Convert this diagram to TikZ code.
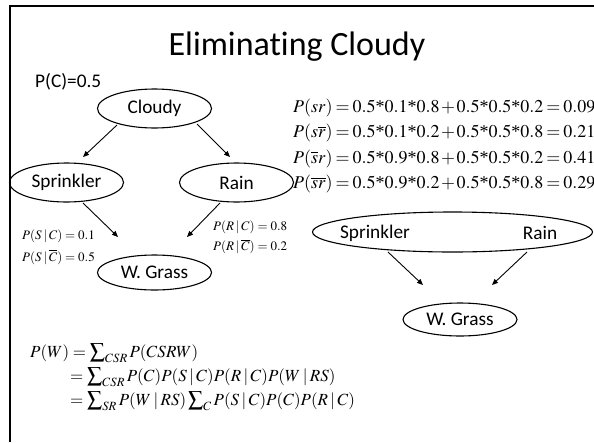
\documentclass[tikz,border=0pt]{standalone}
\usepackage{mathptmx}
\usepackage{graphicx}
\usepackage[no-math]{fontspec}
\setmainfont{Carlito}[Ligatures=NoCommon]
\newfontfamily\timesf{Liberation Serif}
\newcommand{\st}{\mbox{\timesf *}}
\newcommand{\tightsp}{\thickmuskip=3mu plus 1mu\medmuskip=1.5mu}
\newcommand{\bsum}{\mathop{\vcenter{\hbox{\scalebox{1.25}{$\textstyle\sum$}}}}\nolimits}
\usetikzlibrary{arrows.meta,shapes.geometric}
\begin{document}
\begin{tikzpicture}[x=1pt,y=-1pt,
  ell/.style={draw,line width=1.1pt,ellipse,inner sep=0pt},
  lbl/.style={font=\fontsize{19.3}{23}\selectfont},
  arr/.style={line width=0.9pt,-{Triangle[length=6pt,width=5pt]}},
  eqR/.style={anchor=base west,inner sep=0pt,font=\fontsize{18}{21}\selectfont},
  eqL/.style={anchor=base west,inner sep=0pt,font=\fontsize{17}{20}\selectfont},
  eqS/.style={anchor=base west,inner sep=0pt,font=\fontsize{13}{15}\selectfont}]
\useasboundingbox (0,0) rectangle (594,442);
\fill[white] (0,0) rectangle (594,442);
\draw[line width=2.3pt] (10.3,442) -- (10.3,6.2) -- (594,6.2);

\node[anchor=base,inner sep=0pt,font=\fontsize{34}{40}\selectfont] (title) at (297,55) {Eliminating Cloudy};
\node[anchor=base west,inner sep=0pt,lbl] (pc) at (35,87) {P(C)=0.5};

% left network
\node[ell,lbl,minimum width=114pt,minimum height=39pt] (cloudy) at (154.5,108.5) {Cloudy};
\node[ell,lbl,minimum width=114pt,minimum height=39pt] (spr) at (66.5,182.5) {Sprinkler};
\node[ell,lbl,minimum width=114pt,minimum height=39pt] (rain) at (236.5,182.5) {Rain};
\node[ell,lbl,minimum width=114pt,minimum height=35pt] (wg) at (154.5,272.5) {W. Grass};

\coordinate (a1s) at (117,125); \coordinate (a1e) at (83,157);
\coordinate (a2s) at (197,124); \coordinate (a2e) at (230,157);
\coordinate (a3s) at (83,203);  \coordinate (a3e) at (118,237);
\coordinate (a4s) at (220,203); \coordinate (a4e) at (187,237);
\draw[arr] (a1s) -- (a1e);
\draw[arr] (a2s) -- (a2e);
\draw[arr] (a3s) -- (a3e);
\draw[arr] (a4s) -- (a4e);

\node[eqS] (ps1) at (22,239) {$P(S\mathbin{|}C)=0.1$};
\node[eqS] (ps2) at (22,261) {$P(S\mathbin{|}\overline{C})=0.5$};
\node[eqS] (pr1) at (213,230.5) {$P(R\mathbin{|}C)=0.8$};
\node[eqS] (pr2) at (213,250.5) {$P(R\mathbin{|}\overline{C})=0.2$};

% right equations
\node[eqR] (e1) at (293,112) {$\tightsp P(sr)=0.5\st0.1\st0.8+0.5\st0.5\st0.2=0.09$};
\node[eqR] (e2) at (293,137.5) {$\tightsp P(s\overline{r})=0.5\st0.1\st0.2+0.5\st0.5\st0.8=0.21$};
\node[eqR] (e3) at (293,163) {$\tightsp P(\overline{s}r)=0.5\st0.9\st0.8+0.5\st0.5\st0.2=0.41$};
\node[eqR] (e4) at (293,188.5) {$\tightsp P(\overline{s}\overline{r})=0.5\st0.9\st0.2+0.5\st0.5\st0.8=0.29$};

% right network
\node[ell,minimum width=280pt,minimum height=40pt] (sr) at (452.5,232) {};
\node[lbl,inner sep=0pt] (srS) at (375,233) {Sprinkler};
\node[lbl,inner sep=0pt] (srR) at (540,233) {Rain};
\node[ell,lbl,minimum width=114pt,minimum height=33pt] (wg2) at (460,319.5) {W. Grass};
\coordinate (b1s) at (388,252); \coordinate (b1e) at (423,285);
\coordinate (b2s) at (527,252); \coordinate (b2e) at (492,285);
\draw[arr] (b1s) -- (b1e);
\draw[arr] (b2s) -- (b2e);

% left equations
\node[eqL] (l1) at (30,357) {$P(W)=\bsum_{CSR}P(CSRW)$};
\node[eqL] (l2) at (70,381) {$=\bsum_{CSR}P(C)P(S\mathbin{|}C)P(R\mathbin{|}C)P(W\mathbin{|}RS)$};
\node[eqL] (l3) at (70,405) {$=\bsum_{SR}P(W\mathbin{|}RS)\bsum_{C}P(S\mathbin{|}C)P(C)P(R\mathbin{|}C)$};
\end{tikzpicture}
\end{document}
